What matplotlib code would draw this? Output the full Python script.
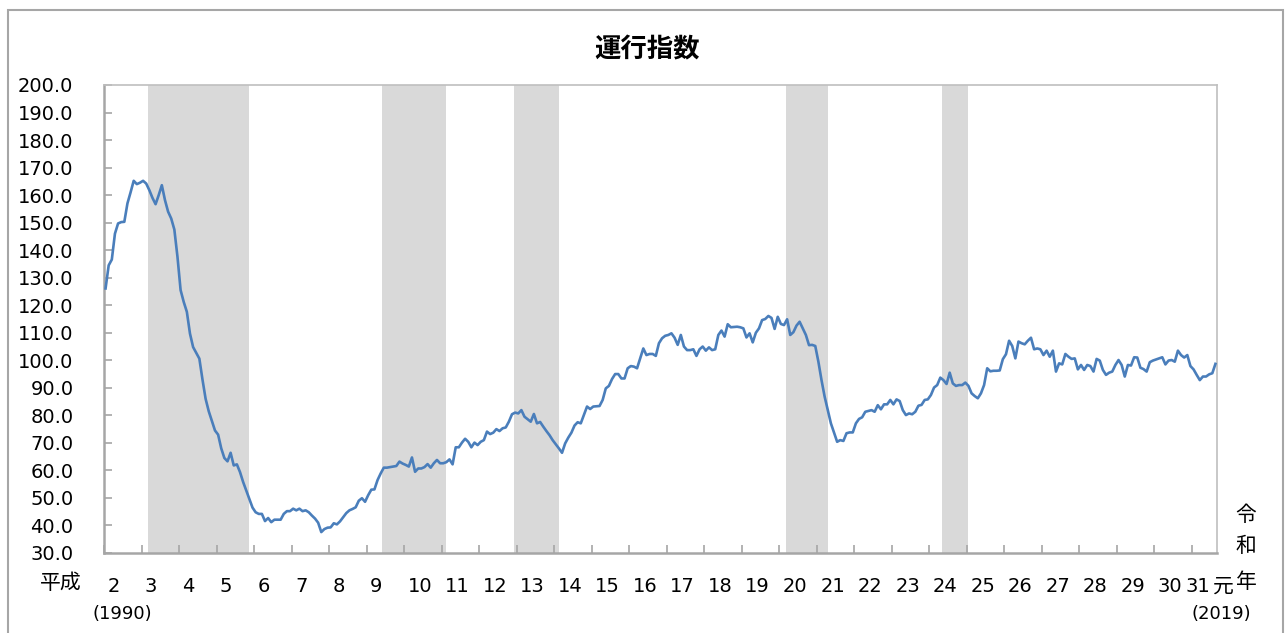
import matplotlib
matplotlib.use("Agg")
import matplotlib.pyplot as plt
from matplotlib.patches import Rectangle
from matplotlib.transforms import blended_transform_factory

plt.rcParams['font.family'] = ['DejaVu Sans', 'Noto Sans CJK JP']
CJK = ['Noto Sans CJK JP', 'DejaVu Sans']

title = "運行指数"
start_year = 1990
# monthly index values, Jan 1990 - Aug 2019
values = [
    126.1, 134.5, 136.6, 146.0, 149.7, 150.2, 150.3, 157.0, 161.0, 165.2, 164.0, 164.5,
    165.2, 164.2, 161.8, 159.0, 156.7, 160.0, 163.6, 158.2, 154.0, 151.5, 147.5, 137.6,
    125.5, 121.2, 117.6, 109.7, 104.8, 102.7, 100.6, 93.0, 86.0, 81.5, 78.0, 74.5,
    73.0, 68.0, 64.5, 63.3, 66.4, 61.8, 62.2, 59.4, 55.8, 52.7, 49.5, 46.5,
    44.8, 44.2, 44.2, 41.6, 42.7, 41.2, 42.1, 42.1, 42.1, 44.2, 45.2, 45.2,
    46.1, 45.5, 46.1, 45.2, 45.5, 44.8, 43.6, 42.5, 41.0, 37.6, 38.7, 39.2,
    39.3, 40.8, 40.4, 41.5, 43.0, 44.5, 45.5, 46.0, 46.6, 49.0, 49.9, 48.6,
    51.0, 53.0, 53.1, 56.5, 58.9, 61.0, 61.0, 61.2, 61.4, 61.6, 63.2, 62.5,
    62.0, 61.4, 64.7, 59.5, 60.7, 60.7, 61.2, 62.3, 61.0, 62.6, 63.8, 62.6,
    62.6, 63.0, 64.0, 62.2, 68.4, 68.4, 70.1, 71.5, 70.4, 68.4, 70.1, 69.2,
    70.4, 71.0, 74.1, 73.2, 73.7, 75.0, 74.3, 75.3, 75.6, 77.7, 80.4, 81.0,
    80.7, 81.9, 79.5, 78.6, 77.7, 80.5, 77.1, 77.6, 75.9, 74.3, 72.8, 71.0,
    69.5, 68.0, 66.4, 69.8, 71.9, 73.7, 76.3, 77.5, 77.1, 80.1, 83.2, 82.3,
    83.2, 83.3, 83.4, 85.6, 89.8, 90.7, 93.2, 95.0, 95.0, 93.4, 93.4, 97.1,
    97.9, 97.7, 97.1, 100.7, 104.3, 101.9, 102.3, 102.3, 101.6, 106.2, 108.0, 108.9,
    109.2, 109.8, 108.2, 105.6, 109.2, 105.0, 103.7, 103.7, 104.0, 101.6, 104.0, 105.0,
    103.5, 104.7, 103.7, 104.0, 109.2, 110.8, 108.6, 113.1, 112.0, 112.1, 112.2, 112.0,
    111.6, 108.3, 109.8, 106.5, 110.0, 111.6, 114.6, 115.0, 116.1, 115.4, 111.4, 115.8,
    113.2, 112.8, 114.9, 109.2, 110.2, 112.6, 114.0, 111.6, 109.2, 105.5, 105.6, 105.2,
    99.5, 92.8, 86.8, 81.9, 77.1, 73.7, 70.4, 71.0, 70.7, 73.5, 73.8, 73.8,
    77.1, 78.7, 79.3, 81.3, 81.6, 81.9, 81.3, 83.7, 82.2, 84.0, 84.0, 85.6,
    84.0, 85.8, 85.2, 81.9, 80.1, 80.7, 80.4, 81.3, 83.5, 83.8, 85.6, 85.8,
    87.4, 90.1, 91.0, 93.7, 92.8, 91.4, 95.5, 91.6, 90.7, 91.0, 91.0, 91.9,
    90.7, 88.0, 87.0, 86.2, 88.0, 91.0, 97.1, 96.0, 96.2, 96.2, 96.3, 100.4,
    102.2, 107.1, 105.2, 100.7, 106.8, 106.2, 105.8, 107.1, 108.2, 104.0, 104.3, 104.0,
    101.9, 103.5, 101.3, 103.5, 95.9, 98.9, 98.5, 102.3, 101.3, 100.5, 100.7, 96.7,
    98.3, 96.5, 98.3, 97.9, 95.9, 100.5, 99.9, 96.5, 94.7, 95.5, 95.9, 98.3,
    100.1, 98.3, 94.1, 98.3, 98.1, 101.1, 101.0, 97.3, 96.8, 95.9, 99.3, 99.9,
    100.3, 100.7, 101.1, 98.5, 99.9, 100.1, 99.5, 103.5, 101.9, 101.0, 101.9, 97.9,
    96.7, 94.7, 92.8, 94.1, 94.1, 94.9, 95.3, 98.7,
]
# recession periods (first month, last month)
recessions = [("1991-03", "1993-10"), ("1997-06", "1999-01"), ("2000-12", "2002-01"),
              ("2008-03", "2009-03"), ("2012-05", "2012-12")]
year_labels = [str(h) for h in range(2, 32)]  # Heisei 2 .. 31
y_ticks = list(range(30, 201, 10))


def month_index(s):
    y, m = s.split("-")
    return (int(y) - start_year) * 12 + int(m) - 1


W, H = 1288, 633
fig = plt.figure(figsize=(W / 100, H / 100), dpi=100)
ax = fig.add_axes([104 / W, 1 - 553 / H, (1217 - 104) / W, (553 - 85) / H])

n = len(values)
for s, e in recessions:
    ax.axvspan(month_index(s), month_index(e) + 1.5, color="#D9D9D9", lw=0, zorder=1)

xs = [i + 0.5 for i in range(n)]
ax.plot(xs, values, color="#4A7EBB", lw=1.9, zorder=3, solid_joinstyle="round")

ax.set_xlim(0, n)
ax.set_ylim(30, 200)
ax.set_yticks(y_ticks)
ax.set_yticklabels([f"{v:.1f}" for v in y_ticks], fontsize=14)
ax.set_xticks(list(range(0, n, 12)))
ax.set_xticklabels([])
ax.tick_params(axis="y", direction="in", length=6, width=1.2, color="#A6A6A6", pad=22)
ax.tick_params(axis="x", direction="in", length=6, width=1.2, color="#A6A6A6")
for side in ["left", "bottom"]:
    ax.spines[side].set_color("#A6A6A6")
    ax.spines[side].set_linewidth(1.8)
for side in ["top", "right"]:
    ax.spines[side].set_color("#BFBFBF")
    ax.spines[side].set_linewidth(1.2)

tr = blended_transform_factory(ax.transData, fig.transFigure)
for k, lab in enumerate(year_labels):
    xoff = 1.1 if k < len(year_labels) - 1 else -2.1
    ax.text(12 * k + xoff, 1 - 586 / H, lab, transform=tr, ha="left", va="center",
            fontsize=14, clip_on=False)
ax.text(358.0, 1 - 587 / H, "元", transform=tr, ha="center", va="center",
        fontsize=15, family=CJK)

fig.text(61 / W, 1 - 583 / H, "平成", ha="center", va="center", fontsize=15, family=CJK)
fig.text(122 / W, 1 - 614 / H, "(1990)", ha="center", va="center", fontsize=13)
fig.text(1221 / W, 1 - 614 / H, "(2019)", ha="center", va="center", fontsize=13)
fig.text(1246 / W, 1 - 515 / H, "令", ha="center", va="center", fontsize=15, family=CJK)
fig.text(1246 / W, 1 - 546 / H, "和", ha="center", va="center", fontsize=15, family=CJK)
fig.text(1246 / W, 1 - 582 / H, "年", ha="center", va="center", fontsize=15, family=CJK)

fig.text(647 / W, 1 - 50 / H, title, ha="center", va="center", fontsize=19,
         fontweight="bold", family=CJK)

fig.patches.append(Rectangle((8 / W, -0.05), (1283 - 8) / W, (H - 10) / H + 0.05,
                             transform=fig.transFigure, fill=False,
                             edgecolor="#A6A6A6", lw=1.5))

fig.savefig("out.png", dpi=100)
